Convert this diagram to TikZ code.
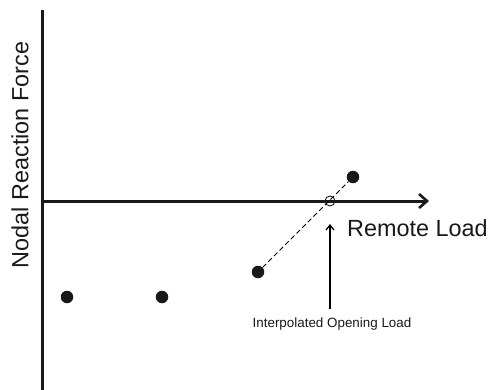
\documentclass[tikz,border=0pt]{standalone}
\usepackage{fontspec}
\setmainfont{Liberation Sans}
\usetikzlibrary{arrows.meta}
\begin{document}
\begin{tikzpicture}[x=1pt,y=-1pt,
  axis/.style={line width=3pt,draw=black!90},
  datapt/.style={circle,fill=black!90,inner sep=0pt,minimum size=12.5pt},
  openpt/.style={circle,draw=black!90,line width=0.9pt,inner sep=0pt,minimum size=10pt},
  lbl/.style={inner sep=0pt,text=black!90}]
\useasboundingbox (0,0) rectangle (492,390);
% axes
\coordinate (ytop) at (42,10);
\coordinate (ybot) at (42,390);
\coordinate (xstart) at (42,201);
\coordinate (xend) at (429,201);
\draw[axis] (ytop) -- (ybot);
\draw[axis,-{Straight Barb[length=8pt,width=14pt,line width=2.6pt]}] (xstart) -- (xend);
% axis labels
\node[lbl,rotate=90,font=\fontsize{23.4}{25}\selectfont] (ylab) at (20,155) {Nodal Reaction Force};
\node[lbl,anchor=west,font=\fontsize{23.4}{25}\selectfont] (xlab) at (347,228) {Remote Load};
% data points
\node[datapt] (p1) at (67,297) {};
\node[datapt] (p2) at (162,297) {};
\node[datapt] (p3) at (258,272) {};
\node[datapt] (p4) at (353,177) {};
% interpolation
\draw[dashed,line width=0.9pt,dash pattern=on 5pt off 3pt] (p3) -- (p4);
\node[openpt] (op) at (330,201) {};
% annotation
\coordinate (abot) at (330,309);
\coordinate (atop) at (330,224);
\draw[line width=1.5pt,-{Straight Barb[length=5pt,width=8pt,line width=1.3pt]}] (abot) -- (atop);
\node[lbl,font=\fontsize{13.4}{14}\selectfont] (alab) at (332,324) {Interpolated Opening Load};
\end{tikzpicture}
\end{document}
